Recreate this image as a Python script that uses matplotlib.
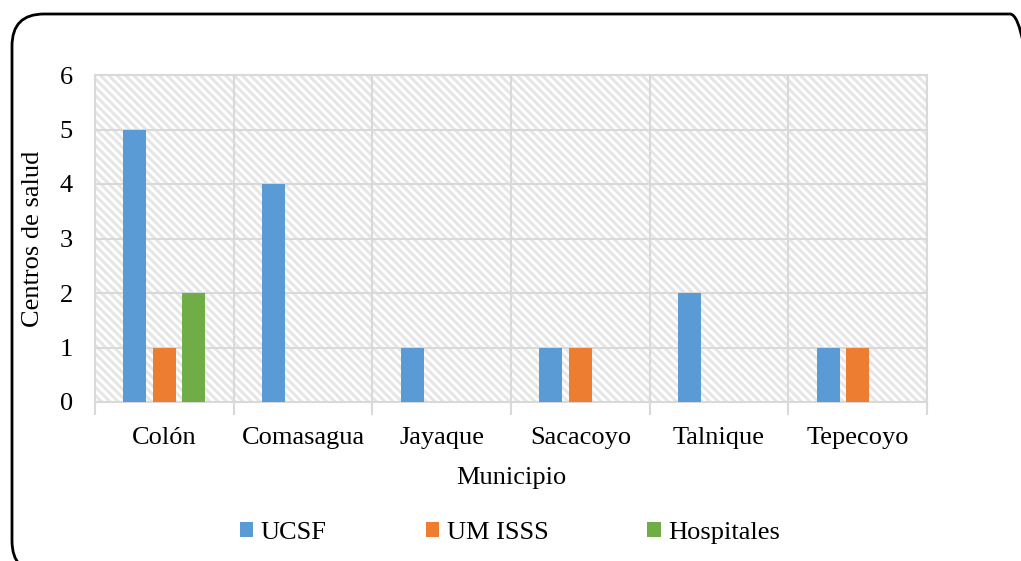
import matplotlib.pyplot as plt
import numpy as np
from matplotlib.patches import FancyBboxPatch, Rectangle
from matplotlib.transforms import IdentityTransform

municipios = ['Colón', 'Comasagua', 'Jayaque', 'Sacacoyo', 'Talnique', 'Tepecoyo']
ucsf = [5, 4, 1, 1, 2, 1]
um_isss = [1, 0, 0, 1, 0, 1]
hospitales = [2, 0, 0, 0, 0, 0]

plt.rcParams['font.family'] = ['Liberation Serif', 'DejaVu Serif']
plt.rcParams['hatch.linewidth'] = 2.2
plt.rcParams['hatch.color'] = '#e6e6e6'

fig = plt.figure(figsize=(10.21, 5.61), dpi=100)
ax = fig.add_axes([95/1021, 1-402/561, (927-95)/1021, (402-75)/561])

# fondo rayado del area de trazado
ax.add_patch(Rectangle((0, 0), 1, 1, transform=ax.transAxes, facecolor='white',
                       edgecolor='#e6e6e6', hatch='\\\\\\\\', linewidth=0, zorder=0))

x = np.arange(len(municipios))
w = 0.166
off = 0.212
ax.bar(x - off, ucsf, w, color='#5b9bd5', label='UCSF', zorder=3)
ax.bar(x, um_isss, w, color='#ed7d31', label='UM ISSS', zorder=3)
ax.bar(x + off, hospitales, w, color='#70ad47', label='Hospitales', zorder=3)

ax.set_xlim(-0.5, len(municipios) - 0.5)
ax.set_ylim(0, 6)
ax.set_yticks(range(7))
ax.set_xticks(x)
ax.set_xticklabels(municipios)
ax.set_xticks(np.arange(-0.5, len(municipios), 1), minor=True)
ax.tick_params(axis='x', which='major', length=0, labelsize=19, pad=18)
ax.tick_params(axis='x', which='minor', length=9, color='#d9d9d9', width=1.5)
ax.tick_params(axis='y', length=0, labelsize=19, pad=16)
ax.grid(True, which='major', axis='y', color='#d9d9d9', linewidth=1.5, zorder=1)
ax.grid(True, which='minor', axis='x', color='#d9d9d9', linewidth=1.5, zorder=1)
ax.set_axisbelow(True)
for s in ax.spines.values():
    s.set_color('#d9d9d9')
    s.set_linewidth(1.5)

ax.set_xlabel('Municipio', fontsize=19, labelpad=13)
ax.set_ylabel('Centros de salud', fontsize=19, labelpad=11)

ax.legend(loc='center', bbox_to_anchor=(510/1021, 1-533/561), bbox_transform=fig.transFigure,
          ncol=3, frameon=False, fontsize=19, handlelength=0.5, handleheight=0.5,
          handletextpad=0.3, columnspacing=3.75)

# marco redondeado
fig.patches.append(FancyBboxPatch((12, -12), 1030, 559, transform=IdentityTransform(),
                                  boxstyle='round,pad=0,rounding_size=32', facecolor='none',
                                  edgecolor='black', linewidth=2, figure=fig))

fig.savefig('out.png', dpi=100)
